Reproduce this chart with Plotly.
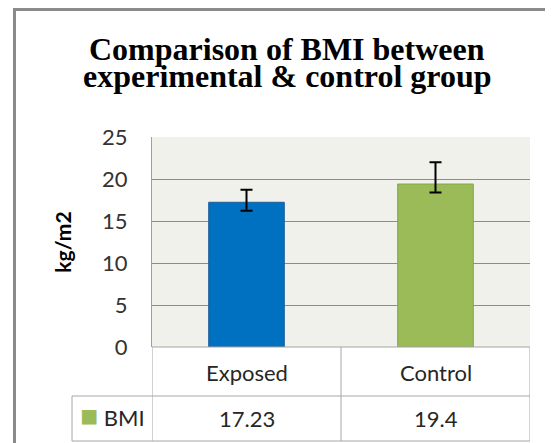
import plotly.graph_objects as go

W, H = 553, 443
OFF = 8  # page body margin offset

# ---- data ----
categories = ["Exposed", "Control"]
bmi_values = [17.23, 19.4]
err_plus = [1.5, 2.6]
err_minus = [1.0, 1.0]
bar_colors = ["#0070C0", "#9BBB59"]
bar_lines = ["#1F5F9A", "#86A64B"]
series_name = "BMI"
title_lines = ["Comparison of BMI between", "experimental & control group"]
y_title = "kg/m2"
y_ticks = [0, 5, 10, 15, 20, 25]


def px_x(p):
    return (p - OFF) / W


def px_y(p):
    return 1 - (p - OFF) / H


sans = "Lato, Calibri, sans-serif"
serif = "Liberation Serif, Times New Roman, serif"
grid_line = "#A6A6A6"

fig = go.Figure()

fig.add_trace(go.Bar(
    x=categories, y=bmi_values, width=0.4,
    marker=dict(color=bar_colors, line=dict(color=bar_lines, width=1)),
    error_y=dict(type="data", symmetric=False, array=err_plus, arrayminus=err_minus,
                 color="black", thickness=2, width=6),
    showlegend=False, hoverinfo="skip",
))

# ---- data table below the plot (aligned to the category axis) ----
n = len(categories)
row1_top, row1_bot, row2_bot = 347, 396, 441
key_left = 72
shapes = []
shapes.append(dict(type="line", xref="x", yref="paper", x0=-0.5, x1=n - 0.5,
                   y0=px_y(row1_top), y1=px_y(row1_top), line=dict(color=grid_line, width=1)))
for yy in (row1_bot, row2_bot):
    shapes.append(dict(type="line", xref="paper", yref="paper", x0=px_x(key_left), x1=px_x(530),
                       y0=px_y(yy), y1=px_y(yy), line=dict(color=grid_line, width=1)))
for i in range(n + 1):
    shapes.append(dict(type="line", xref="x", yref="paper", x0=i - 0.5, x1=i - 0.5,
                       y0=px_y(row2_bot), y1=px_y(row1_top), line=dict(color=grid_line, width=1)))
shapes.append(dict(type="line", xref="paper", yref="paper", x0=px_x(key_left), x1=px_x(key_left),
                   y0=px_y(row2_bot), y1=px_y(row1_bot), line=dict(color=grid_line, width=1)))
# outer chart border
shapes.append(dict(type="rect", xref="paper", yref="paper",
                   x0=px_x(14.5), x1=px_x(580), y0=px_y(470), y1=px_y(9.5),
                   line=dict(color="#8A8A8A", width=3), fillcolor="rgba(0,0,0,0)", layer="above"))

cell_font = dict(family=sans, size=22, color="#262626")
annotations = []
for cat, val in zip(categories, bmi_values):
    annotations.append(dict(text=cat, x=cat, xref="x", y=px_y(372), yref="paper",
                            xanchor="center", yanchor="middle", showarrow=False, font=cell_font))
    annotations.append(dict(text=str(val), x=cat, xref="x", y=px_y(418), yref="paper",
                            xanchor="center", yanchor="middle", showarrow=False, font=cell_font))
annotations.append(dict(text="<span style='color:#9BBB59;font-size:30px'>■</span> " + series_name,
                        x=px_x(112), y=px_y(414), xref="paper", yref="paper",
                        xanchor="center", yanchor="middle", showarrow=False, font=cell_font))
# title (two tightly spaced lines)
for txt, yy in zip(title_lines, (49, 76)):
    annotations.append(dict(text=txt, x=px_x(287), y=px_y(yy), xref="paper", yref="paper",
                            xanchor="center", yanchor="middle", showarrow=False,
                            font=dict(family=serif, size=32, color="black", weight="bold")))

fig.update_layout(
    width=W, height=H,
    margin=dict(l=0, r=0, t=0, b=0, autoexpand=False),
    paper_bgcolor="white",
    plot_bgcolor="#EFF1EA",
    xaxis=dict(domain=[px_x(152), px_x(530)], range=[-0.5, n - 0.5], showticklabels=False,
               ticks="", showgrid=False, zeroline=False, showline=False, fixedrange=True,
               automargin=False),
    yaxis=dict(domain=[px_y(347), px_y(137)], range=[0, 25], tickvals=y_ticks,
               showgrid=True, gridcolor="#8C8C8C", gridwidth=1, zeroline=False,
               showline=True, linecolor="#A0A0A0", linewidth=1, automargin=False,
               ticks="", ticklabelstandoff=19,
               tickfont=dict(family=sans, size=22, color="#333333"),
               title=dict(text=y_title, standoff=24,
                          font=dict(family=sans, size=21, color="black", weight="bold"))),
    shapes=shapes,
    annotations=annotations,
)

fig.write_html("out.html")
